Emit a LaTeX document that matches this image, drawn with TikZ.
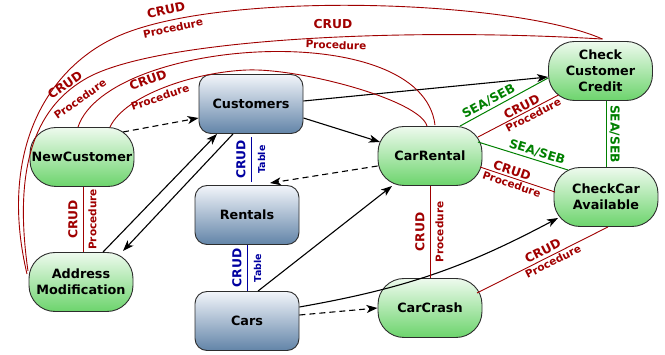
\documentclass[tikz,border=0pt]{standalone}
\usepackage{fontspec}
\setmainfont{DejaVu Sans}
\usetikzlibrary{arrows.meta,calc}
\definecolor{crudred}{RGB}{160,0,0}
\definecolor{seagreen}{RGB}{0,128,0}
\definecolor{tblue}{RGB}{0,0,160}
\definecolor{gtop}{RGB}{238,250,238}
\definecolor{gbot}{RGB}{108,212,108}
\definecolor{btop}{RGB}{242,245,250}
\definecolor{bbot}{RGB}{98,132,168}
\definecolor{bord}{RGB}{45,45,45}
\newcommand{\dgnodefont}{\fontsize{12.8}{16}\selectfont\bfseries}
\newcommand{\dgcrudfont}{\fontsize{12.3}{14}\selectfont\bfseries}
\newcommand{\dgprocfont}{\fontsize{10.5}{12}\selectfont\bfseries}
\newcommand{\dgtabfont}{\fontsize{9.5}{11}\selectfont\bfseries}
\begin{document}
\begin{tikzpicture}[x=1pt,y=-1pt,
  procbox/.style={draw=bord, line width=0.9pt, rounded corners=26pt,
    minimum width=104pt, minimum height=59pt, inner sep=0pt,
    top color=gtop, bottom color=gbot, align=center, font=\dgnodefont},
  tabbox/.style={draw=bord, line width=0.9pt, rounded corners=12pt,
    minimum width=104pt, minimum height=59pt, inner sep=0pt,
    top color=btop, bottom color=bbot, align=center, font=\dgnodefont},
  arr/.style={draw=black, line width=1.1pt, -{Stealth[length=11pt,width=8pt,inset=3pt]}},
  dsh/.style={dash pattern=on 6pt off 4pt},
  redl/.style={draw=crudred, line width=0.9pt},
  greenl/.style={draw=seagreen, line width=1pt},
  bluel/.style={draw=tblue, line width=1pt},
  crudlab/.style={text=crudred, font=\dgcrudfont, inner sep=1.5pt},
  proclab/.style={text=crudred, font=\dgprocfont, inner sep=1.5pt},
  crudblab/.style={text=tblue, font=\dgcrudfont, inner sep=1.5pt},
  tablab/.style={text=tblue, font=\dgtabfont, inner sep=1.5pt},
  sealab/.style={text=seagreen, font=\dgcrudfont, inner sep=1.5pt},
  vgap/.style={inner sep=5pt},
]
\useasboundingbox (0,0) rectangle (665,355);

% nodes
\node[procbox] (nc) at (82,157) {NewCustomer};
\node[procbox] (am) at (81,282) {Address\\Modification};
\node[tabbox] (cu) at (251,104) {Customers};
\node[tabbox] (re) at (247,215) {Rentals};
\node[tabbox] (ca) at (247,321) {Cars};
\node[procbox] (cr) at (430,156) {CarRental};
\node[procbox] (ccc) at (600.5,71) {Check\\Customer\\Credit};
\node[procbox] (cca) at (606,197) {CheckCar\\Available};
\node[procbox] (cc) at (430,308) {CarCrash};

% black connectors
\draw[arr,dsh] ($(nc.center)+(41,-25)$) -- ($(cu.west)+(0,14)$);
\draw[arr] ($(am.north)+(22,0)$) -- ($(cu.south)+(-34,0)$);
\draw[arr] ($(cu.south)+(-18,0)$) -- ($(am.center)+(42,-31)$);
\draw[arr] ($(cu.east)+(0,-3)$) -- ($(ccc.west)+(0,6)$);
\draw[arr] ($(cu.east)+(0,14)$) -- ($(cr.center)+(-50,-14)$);
\draw[arr,dsh] ($(cr.west)+(0,10)$) -- ($(re.north)+(23,-2)$);
\draw[arr] ($(ca.north)+(11,0)$) -- ($(cr.center)+(-38,30)$);
\draw[arr] ($(ca.east)+(0,-14)$) to[bend right=9] ($(cca.center)+(-48,21)$);
\draw[arr,dsh] ($(ca.east)+(0,-6)$) -- (cc.west);

% red straight connectors
\draw[redl] ($(am.north)+(2,0)$) -- ($(nc.south)+(1,0)$)
  node[midway,anchor=south,rotate=90,crudlab,vgap]{CRUD}
  node[midway,anchor=north,rotate=90,proclab,vgap]{Procedure};
\draw[redl] (cc.north) -- (cr.south)
  node[midway,anchor=south,rotate=90,crudlab,vgap]{CRUD}
  node[midway,anchor=north,rotate=90,proclab,vgap]{Procedure};
\draw[redl] ($(cr.center)+(48,-19)$) -- ($(ccc.center)+(-42,24)$)
  node[pos=0.58,sloped,above,crudlab]{CRUD}
  node[pos=0.65,sloped,below,proclab]{Procedure};
\draw[redl] ($(cr.center)+(50,11)$) -- ($(cca.center)+(-51,-5)$)
  node[pos=0.4,sloped,above,crudlab]{CRUD}
  node[pos=0.45,sloped,below,proclab]{Procedure};
\draw[redl] ($(cc.center)+(47,-15)$) -- ($(cca.south)+(2,0)$)
  node[pos=0.53,sloped,above,crudlab,inner sep=3pt]{CRUD}
  node[pos=0.56,sloped,below,proclab]{Procedure};

% green connectors
\draw[greenl] ($(cr.north)+(30,0)$) -- ($(ccc.west)+(0,7)$)
  node[pos=0.37,sloped,above,sealab,inner sep=2.5pt]{SEA/SEB};
\draw[greenl] ($(cr.center)+(48,-14)$) -- ($(cca.center)+(-38,-27)$)
  node[pos=0.63,sloped,above,sealab,inner sep=2.5pt]{SEA/SEB};
\draw[greenl] ($(ccc.south)+(5.5,0)$) -- (cca.north)
  node[midway,anchor=south,rotate=-90,sealab,inner sep=3pt]{SEA/SEB};

% blue connectors
\draw[bluel] ($(re.north)+(4,-3)$) -- ($(cu.south)+(0,3)$)
  node[midway,anchor=south,rotate=90,crudblab,vgap]{CRUD}
  node[midway,anchor=north,rotate=90,tablab,inner sep=6.5pt]{Table};
\draw[bluel] (ca.north) -- (re.south)
  node[midway,anchor=south,rotate=90,crudblab,vgap]{CRUD}
  node[midway,anchor=north,rotate=90,tablab,inner sep=6.5pt]{Table};

% curved red connectors
\coordinate (a1) at ($(am.center)+(-54,-8)$);
\coordinate (b1) at ($(am.center)+(-53,-11)$);
\coordinate (a2) at ($(ccc.north)+(2,-2)$);
\coordinate (c1) at ($(nc.north)+(-4,0)$);
\coordinate (d1) at ($(nc.north)+(28,0)$);
\coordinate (c2) at ($(cr.north)+(5,-1)$);
\coordinate (d2) at ($(cr.north)+(-3,0)$);

\draw[redl] (a1) .. controls (0,160) and (40,76) .. (110,40)
  .. controls (208,-11) and (512,-1) .. (a2);
\draw[redl] (b1) .. controls (12,160) and (39,105) .. (87,78)
  .. controls (157,39) and (402,27) .. (a2);
\draw[redl] (c1) .. controls (108,38) and (422,16) .. (c2);
\draw[redl] (d1) .. controls (125,95) and (195,72) .. (247,70)
  .. controls (300,68) and (420,100) .. (d2);

% curve labels
\node[crudlab,rotate=12] (la1) at (166,10) {CRUD};
\node[proclab,rotate=12] (la2) at (173,28) {Procedure};
\node[crudlab,rotate=35] (lb1) at (65,85) {CRUD};
\node[proclab,rotate=35] (lb2) at (80,99) {Procedure};
\node[crudlab] (lb3) at (333,24) {CRUD};
\node[proclab,rotate=-2] (lb4) at (336,45) {Procedure};
\node[crudlab,rotate=20] (ld1) at (148,80) {CRUD};
\node[proclab,rotate=19] (ld2) at (160,97) {Procedure};
\end{tikzpicture}
\end{document}
